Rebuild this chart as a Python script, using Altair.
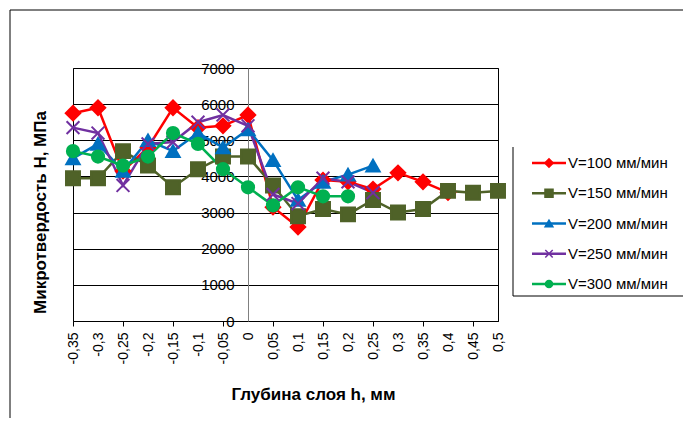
import altair as alt
import pandas as pd

categories = ["-0,35", "-0,3", "-0,25", "-0,2", "-0,15", "-0,1", "-0,05", "0",
              "0,05", "0,1", "0,15", "0,2", "0,25", "0,3", "0,35", "0,4", "0,45", "0,5"]

series = ["V=100 мм/мин", "V=150 мм/мин", "V=200 мм/мин", "V=250 мм/мин", "V=300 мм/мин"]

v100 = [5750, 5900, 4150, 4800, 5900, 5350, 5400, 5700, 3150, 2600, 3900, 3850, 3650, 4100, 3850, 3550, None, None]
v150 = [3950, 3950, 4700, 4300, 3700, 4200, 4550, 4550, 3750, 2900, 3100, 2950, 3350, 3000, 3100, 3600, 3550, 3600]
v200 = [4500, 4900, 4150, 5000, 4700, 5200, 4800, 5300, 4450, 3350, 3850, 4050, 4300, None, None, None, None, None]
v250 = [5350, 5200, 3750, 4900, 4950, 5500, 5700, 5400, 3500, 3250, 3950, 3850, 3550, None, None, None, None, None]
v300 = [4700, 4550, 4300, 4550, 5200, 4900, 4200, 3700, 3200, 3700, 3450, 3450, None, None, None, None, None, None]

colors = ["#FF0000", "#4F6228", "#0070C0", "#7030A0", "#00B050"]
shapes = ["diamond", "square", "triangle-up", "M-1,-1L1,1M1,-1L-1,1", "circle"]
sizes = [210, 150, 190, 130, 170]
legend_sizes = [70, 50, 60, 45, 55]

rows = []
for name, vals in zip(series, [v100, v150, v200, v250, v300]):
    for c, v in zip(categories, vals):
        if v is not None:
            rows.append({"h": c, "H": v, "series": name})
df = pd.DataFrame(rows)

leg_df = pd.DataFrame({"series": series, "idx": list(range(len(series)))})

FONT = "Liberation Sans"

color_scale = alt.Scale(domain=series, range=colors)
shape_scale = alt.Scale(domain=series, range=shapes)

odd_ticks = categories[0::2]
tick_test = "indexof(" + str(odd_ticks).replace(" ", "") + ", datum.value) >= 0"

x_enc = alt.X(
    "h:O",
    sort=categories,
    scale=alt.Scale(type="point", padding=0),
    axis=alt.Axis(
        title="Глубина слоя h, мм",
        titleFont=FONT, titleFontSize=17, titleFontWeight="bold", titleColor="black",
        titleX=240, titleY=65,
        labelAngle=-90, labelFont=FONT, labelFontSize=14, labelColor="black",
        labelPadding=6, labelOverlap=False,
        domainColor="black", domainWidth=1,
        tickSize=5,
        tickColor={"condition": {"test": tick_test, "value": "black"}, "value": "transparent"},
        grid=False,
    ),
)

y_enc = alt.Y(
    "H:Q",
    scale=alt.Scale(domain=[0, 7000], nice=False, zero=True),
    axis=alt.Axis(
        values=list(range(0, 7001, 1000)),
        format="d",
        title="Микротвердость Н, МПа",
        titleFont=FONT, titleFontSize=17, titleFontWeight="bold", titleColor="black",
        titleX=-199, titleY=144,
        labelFont=FONT, labelFontSize=15, labelColor="black", labelPadding=14,
        ticks=False, domainColor="#808080", domainWidth=1,
        grid=True, gridColor="black", gridWidth=1, gridOpacity=1,
        offset=-175,
    ),
)

base = alt.Chart(df)

lines = base.mark_line(strokeWidth=2.5).encode(
    x=x_enc,
    y=y_enc,
    color=alt.Color("series:N", scale=color_scale, legend=None),
    detail="series:N",
)

points = base.mark_point(filled=True, opacity=1, strokeWidth=2).encode(
    x=alt.X("h:O", sort=categories, scale=alt.Scale(type="point", padding=0)),
    y=alt.Y("H:Q", scale=alt.Scale(domain=[0, 7000], nice=False), axis=None),
    color=alt.Color("series:N", scale=color_scale, legend=None),
    stroke=alt.Stroke("series:N", scale=color_scale, legend=None),
    shape=alt.Shape("series:N", scale=shape_scale, legend=None),
    size=alt.Size("series:N", scale=alt.Scale(domain=series, range=sizes), legend=None),
)

leg_y = alt.Y("idx:Q", scale=alt.Scale(domain=[0, 4], range=[95, 216]), axis=None)

leg_lines = alt.Chart(leg_df).mark_rule(strokeWidth=2.5).encode(
    x=alt.value(459), x2=alt.value(493), y=leg_y,
    color=alt.Color("series:N", scale=color_scale, legend=None),
)
leg_points = alt.Chart(leg_df).mark_point(filled=True, opacity=1, strokeWidth=1.5).encode(
    x=alt.value(476), y=leg_y,
    color=alt.Color("series:N", scale=color_scale, legend=None),
    stroke=alt.Stroke("series:N", scale=color_scale, legend=None),
    shape=alt.Shape("series:N", scale=shape_scale, legend=None),
    size=alt.Size("series:N", scale=alt.Scale(domain=series, range=legend_sizes), legend=None),
)
leg_text = alt.Chart(leg_df).mark_text(align="left", baseline="middle", font=FONT, fontSize=15, color="black").encode(
    x=alt.value(495), y=leg_y, text="series:N",
)

one = pd.DataFrame({"a": [0]})
leg_box_left = alt.Chart(one).mark_rule(color="black", strokeWidth=1).encode(
    x=alt.value(440), y=alt.value(79), y2=alt.value(228))
leg_box_bottom = alt.Chart(one).mark_rule(color="black", strokeWidth=1).encode(
    x=alt.value(440), x2=alt.value(612), y=alt.value(228))
frame_top = alt.Chart(one).mark_rule(color="black", strokeWidth=1).encode(
    x=alt.value(-63), x2=alt.value(620), y=alt.value(-58))
frame_left = alt.Chart(one).mark_rule(color="black", strokeWidth=1).encode(
    x=alt.value(-63), y=alt.value(-58), y2=alt.value(360))

chart = alt.layer(
    lines, points, leg_lines, leg_points, leg_text,
    leg_box_left, leg_box_bottom, frame_top, frame_left,
).resolve_scale(
    y="independent", size="independent"
).properties(
    width=425, height=253,
    padding={"left": 65, "top": 60, "right": 185, "bottom": 97},
    autosize=alt.AutoSizeParams(type="none"),
    background="white",
).configure_view(stroke="black", strokeWidth=1)

chart.save("out.html", embed_options={"renderer": "svg", "actions": False})
